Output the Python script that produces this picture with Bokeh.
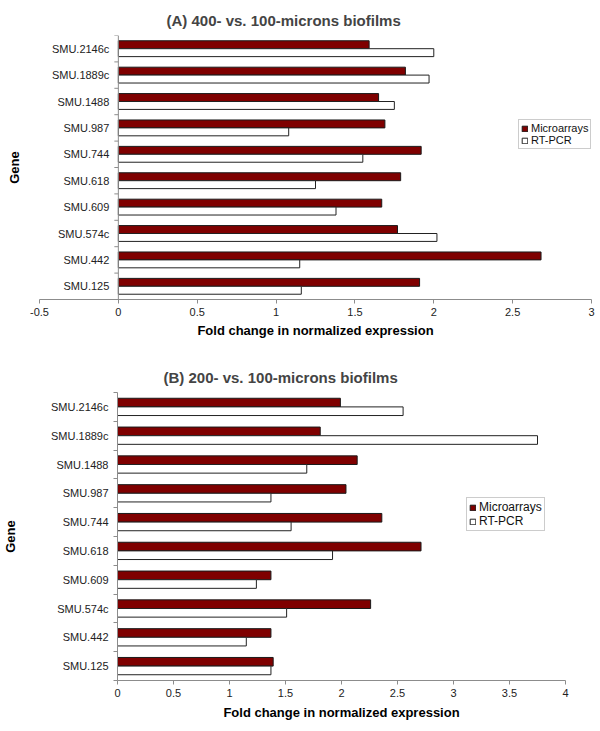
import math
from bokeh.plotting import figure
from bokeh.models import Range1d, FixedTicker, Legend, LegendItem, Span
from bokeh.core.properties import value
from bokeh.embed import file_html
from bokeh.resources import INLINE

genes = ["SMU.125", "SMU.442", "SMU.574c", "SMU.609", "SMU.618",
         "SMU.744", "SMU.987", "SMU.1488", "SMU.1889c", "SMU.2146c"]

# (A) 400- vs. 100-microns biofilms
a_micro = [1.91, 2.68, 1.77, 1.67, 1.79, 1.92, 1.69, 1.65, 1.82, 1.59]
a_rtpcr = [1.16, 1.15, 2.02, 1.38, 1.25, 1.55, 1.08, 1.75, 1.97, 2.00]
a_x_ticks = [-0.5, 0, 0.5, 1, 1.5, 2, 2.5, 3]
a_x_labels = ["-0.5", "0", "0.5", "1", "1.5", "2", "2.5", "3"]

# (B) 200- vs. 100-microns biofilms
b_micro = [1.39, 1.37, 2.26, 1.37, 2.71, 2.36, 2.04, 2.14, 1.81, 1.99]
b_rtpcr = [1.37, 1.15, 1.51, 1.24, 1.92, 1.55, 1.37, 1.69, 3.75, 2.55]
b_x_ticks = [0, 0.5, 1, 1.5, 2, 2.5, 3, 3.5, 4]
b_x_labels = ["0", "0.5", "1", "1.5", "2", "2.5", "3", "3.5", "4"]

series_names = ["Microarrays", "RT-PCR"]
x_title = "Fold change in normalized expression"
y_title = "Gene"

FONT = "Liberation Sans"
MAROON = "#7f0000"
AXIS_GRAY = "#8c8c8c"
LABEL_COLOR = "#222222"


def style_common(p, title_offset):
    p.outline_line_color = None
    p.xgrid.visible = False
    p.ygrid.visible = False
    p.title.text_font = FONT
    p.title.text_font_size = "15px"
    p.title.text_font_style = "bold"
    p.title.align = "left"
    p.title.offset = title_offset
    if "standoff" in p.title.properties():
        p.title.standoff = 13


def style_xaxis(p, xticks, xlabels, label_standoff):
    xa = p.xaxis[0]
    xa.ticker = FixedTicker(ticks=xticks)
    xa.major_label_overrides = {t: l for t, l in zip(xticks, xlabels)}
    xa.major_tick_out = 4
    xa.major_tick_in = 0
    xa.minor_tick_line_color = None
    xa.axis_line_color = AXIS_GRAY
    xa.major_tick_line_color = AXIS_GRAY
    xa.major_label_text_font = FONT
    xa.major_label_text_font_size = "11px"
    xa.major_label_text_color = LABEL_COLOR
    xa.major_label_standoff = 4
    xa.axis_label = x_title
    xa.axis_label_text_font = FONT
    xa.axis_label_text_font_size = "13px"
    xa.axis_label_text_font_style = "bold"
    xa.axis_label_text_color = "black"
    xa.axis_label_standoff = label_standoff


def style_ylabel(ya, standoff):
    ya.axis_label = y_title
    ya.axis_label_text_font = FONT
    ya.axis_label_text_font_size = "13px"
    ya.axis_label_text_font_style = "bold"
    ya.axis_label_text_color = "black"
    ya.axis_label_standoff = standoff


def add_bars(p, micro, rtpcr, centers, bar_h):
    r1 = p.hbar(y=[c + bar_h / 2 for c in centers], left=0, right=micro,
                height=bar_h, fill_color=MAROON, line_color="#1a1a1a", line_width=1)
    r2 = p.hbar(y=[c - bar_h / 2 for c in centers], left=0, right=rtpcr,
                height=bar_h, fill_color="white", line_color="#222222", line_width=1)
    return r1, r2


def add_legend(p, r1, r2, loc, font_size):
    legend = Legend(items=[LegendItem(label=series_names[0], renderers=[r1]),
                           LegendItem(label=series_names[1], renderers=[r2])],
                    location=loc)
    legend.label_text_font = FONT
    legend.label_text_font_size = font_size
    legend.label_text_color = "#111111"
    legend.glyph_width = 7
    legend.glyph_height = 7
    legend.label_height = 11
    legend.label_standoff = 3
    legend.padding = 2
    legend.spacing = 0
    legend.margin = 0
    legend.border_line_color = "#999999"
    legend.border_line_width = 1
    legend.background_fill_alpha = 1
    p.add_layout(legend)


n = len(genes)
BAR_H = 0.3
centers = [i + 0.5 for i in range(n)]
bounds = [float(i) for i in range(n + 1)]

# ---------------- Panel A (value axis crosses at 0, inside the frame)
p1 = figure(width=600, height=355, output_backend="svg", toolbar_location=None,
            title="(A)   400- vs. 100-microns biofilms",
            x_range=Range1d(a_x_ticks[0], a_x_ticks[-1]), y_range=Range1d(0, n),
            min_border_left=39, min_border_right=9, min_border_top=35, min_border_bottom=56)
style_common(p1, 127)
style_xaxis(p1, a_x_ticks, a_x_labels, 4)
ya1 = p1.yaxis[0]
ya1.ticker = FixedTicker(ticks=[])
ya1.axis_line_color = None
ya1.major_tick_line_color = None
ya1.minor_tick_line_color = None
ya1.major_tick_out = 0
ya1.major_label_text_font_size = "0px"
style_ylabel(ya1, 18)

# category axis drawn at x = 0
p1.add_layout(Span(location=0, dimension="height", line_color=AXIS_GRAY, line_width=1))
p1.ray(x=[0] * len(bounds), y=bounds, length=4, length_units="screen",
       angle=math.pi, line_color=AXIS_GRAY, line_width=1)
p1.text(x=[0] * n, y=centers, text=genes, x_offset=-9, text_align="right",
        text_baseline="middle", text_font=value(FONT), text_font_size="11px",
        text_color=LABEL_COLOR)
r1, r2 = add_bars(p1, a_micro, a_rtpcr, centers, BAR_H)
add_legend(p1, r1, r2, (479, 150), "11px")

# ---------------- Panel B (value axis starts at 0)
p2 = figure(width=600, height=376, output_backend="svg", toolbar_location=None,
            title="(B)  200- vs. 100-microns biofilms",
            x_range=Range1d(b_x_ticks[0], b_x_ticks[-1]), y_range=Range1d(0, n),
            min_border_left=117, min_border_right=35, min_border_top=37, min_border_bottom=51)
style_common(p2, 46)
style_xaxis(p2, b_x_ticks, b_x_labels, 5)
ya2 = p2.yaxis[0]
ya2.ticker = FixedTicker(ticks=centers, minor_ticks=bounds)
ya2.major_label_overrides = {c: g for c, g in zip(centers, genes)}
ya2.major_tick_line_color = None
ya2.major_tick_out = 4
ya2.major_tick_in = 0
ya2.minor_tick_out = 4
ya2.minor_tick_in = 0
ya2.minor_tick_line_color = AXIS_GRAY
ya2.axis_line_color = AXIS_GRAY
ya2.major_label_text_font = FONT
ya2.major_label_text_font_size = "11px"
ya2.major_label_text_color = LABEL_COLOR
ya2.major_label_standoff = 5
style_ylabel(ya2, 30)
r3, r4 = add_bars(p2, b_micro, b_rtpcr, centers, BAR_H)
add_legend(p2, r3, r4, (349, 149), "12px")

open("out.html", "w").write(file_html([p1, p2], INLINE))
